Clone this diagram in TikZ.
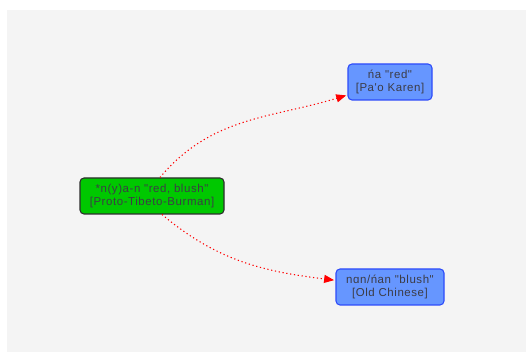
\documentclass[tikz,border=0pt]{standalone}
\usepackage{fontspec}
\setmainfont{Liberation Sans}
\newfontfamily\boxfont[LetterSpace=5]{Liberation Sans}
\usetikzlibrary{arrows.meta,positioning}
\definecolor{bgcol}{RGB}{244,244,244}
\definecolor{protocol}{RGB}{0,200,0}
\definecolor{protoedge}{RGB}{45,45,45}
\definecolor{reflexcol}{RGB}{102,150,255}
\definecolor{reflexedge}{RGB}{45,75,250}
\definecolor{textcol}{RGB}{60,60,70}
\tikzset{
  % proto-form box
  protobox/.style={rectangle, rounded corners=3pt, draw=protoedge, fill=protocol, line width=0.8pt,
                   minimum width=108pt, minimum height=27pt, align=center, inner sep=1pt,
                   text=textcol, font=\boxfont\fontsize{8.6}{9.8}\selectfont},
  % reflex box
  reflexbox/.style={rectangle, rounded corners=3pt, draw=reflexedge, fill=reflexcol, line width=0.8pt,
                    minimum height=27pt, align=center, inner sep=1pt,
                    text=textcol, font=\boxfont\fontsize{8.6}{9.8}\selectfont},
  % descent edge
  descent/.style={-{Triangle[length=7.5pt,width=6pt]}, red, line width=0.8pt,
                  dash pattern=on 0.9pt off 2pt, shorten >=1pt},
}
\begin{document}
\begin{tikzpicture}[x=0.75pt,y=0.75pt]
  \useasboundingbox (0,0) rectangle (526,352);
  \fill[bgcol] (7,0) rectangle (526,342);

  % nodes
  \node[protobox] (ptb) at (152,156) {*n(y)a-n "red, blush"\\{}[Proto-Tibeto-Burman]};
  \node[reflexbox, minimum width=63pt] (pao) at (390,270) {ńa "red"\\{}[Pa'o Karen]};
  \node[reflexbox, minimum width=81pt] (och) at (390,65) {nɑn/ńan  "blush"\\{}[Old Chinese]};

  % edges
  \draw[descent] (ptb.north) ++(8,0) to[out=50,in=197] (pao);
  \draw[descent] (ptb.south) ++(10,0) to[out=-40,in=173] (och);
\end{tikzpicture}
\end{document}
